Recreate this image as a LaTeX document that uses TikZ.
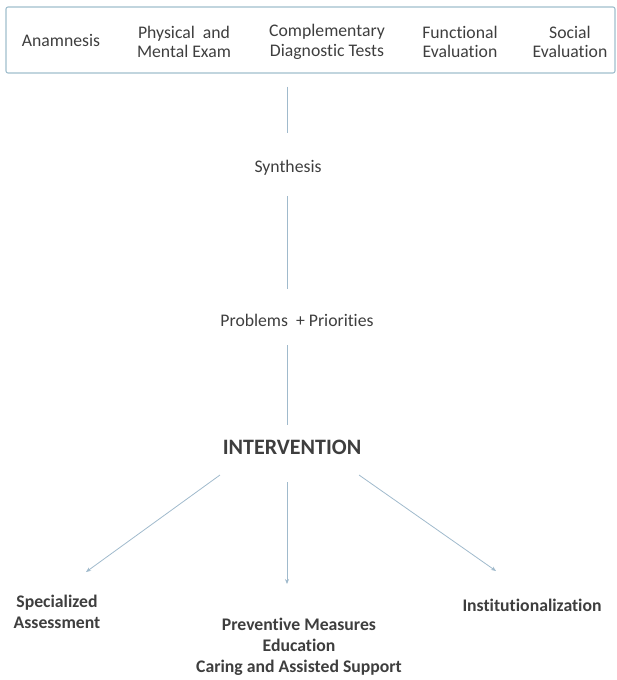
\documentclass[tikz,border=0pt]{standalone}
\usepackage{fontspec}
\setmainfont[Ligatures=NoCommon]{Carlito}
\usetikzlibrary{positioning,arrows.meta}
\definecolor{inkgray}{RGB}{62,62,62}
\definecolor{wireblue}{RGB}{160,186,204}
\definecolor{framecol}{RGB}{160,190,205}
\tikzset{
  panel/.style={draw=framecol, line width=1.1pt, rounded corners=2pt, inner sep=0pt},
  txt/.style={text=inkgray, inner sep=0pt, align=center, font=\fontsize{17.7}{19.5}\selectfont},
  boldtxt/.style={txt, font=\fontsize{17.7}{21}\selectfont\bfseries},
  bigtxt/.style={txt, font=\fontsize{22}{26}\selectfont\bfseries},
  link/.style={draw=wireblue, line width=0.8pt},
  flowarrow/.style={link, -{Stealth[length=5pt,width=4pt]}}
}
\begin{document}
\begin{tikzpicture}[x=1pt, y=-1pt]
  \useasboundingbox (0,0) rectangle (616,680);
  % assessment panel
  \node[panel, minimum width=609pt, minimum height=66pt] (top) at (310.5,40) {};
  \node[txt] (anam) at (61,40) {Anamnesis};
  \node[txt] (physical) at (184,42) {Physical~ and\\Mental Exam};
  \node[txt] (compl) at (327,42) {Complementary\\Diagnostic Tests};
  \node[txt] (func) at (460,42) {Functional\\Evaluation};
  \node[txt] (social) at (570,42) {Social\\Evaluation};
  % main column
  \coordinate (axis) at (287,0);
  \node[txt] (synth) at (288,168) {Synthesis};
  \node[txt] (prob) at (297,320) {Problems~ + Priorities};
  \node[bigtxt] (interv) at (292,447) {INTERVENTION};
  % outcomes
  \node[boldtxt] (spec) at (57,612) {Specialized\\Assessment};
  \node[boldtxt] (prev) at (299,647) {Preventive Measures\\Education\\Caring and Assisted Support};
  \node[boldtxt] (inst) at (532,605) {Institutionalization};
  % arrow ends
  \coordinate (lstart) at (220,475);
  \coordinate (lend) at (86,572);
  \coordinate (mstart) at (287,482);
  \coordinate (mend) at (287,584);
  \coordinate (rstart) at (359,475);
  \coordinate (rend) at (496,571);
  \draw[link, shorten <=13pt, shorten >=27pt] (top.south -| axis) -- (synth.north -| axis);
  \draw[link, shorten <=20pt, shorten >=25pt] (synth.south -| axis) -- (prob.north -| axis);
  \draw[link, shorten <=19pt, shorten >=15pt] (prob.south -| axis) -- (interv.north -| axis);
  \draw[flowarrow] (lstart) -- (lend);
  \draw[flowarrow] (mstart) -- (mend);
  \draw[flowarrow] (rstart) -- (rend);
\end{tikzpicture}
\end{document}
